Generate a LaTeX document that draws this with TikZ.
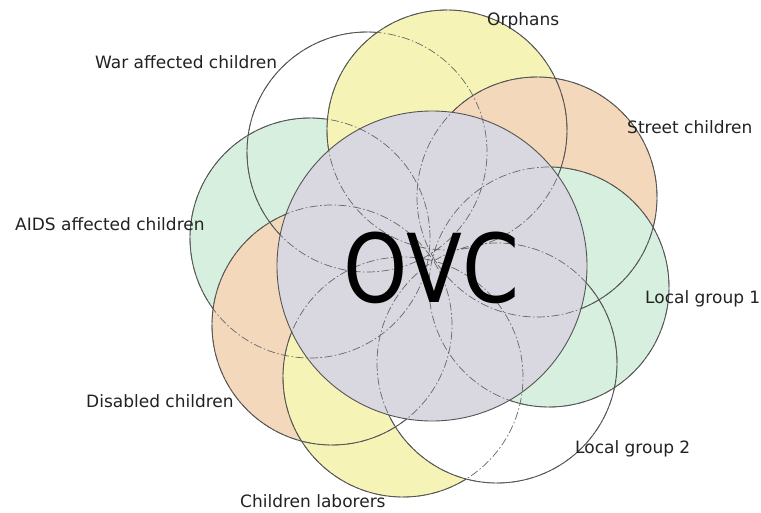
\documentclass[tikz,border=0pt]{standalone}
\usepackage{fontspec}
\setmainfont{DejaVu Sans}
\definecolor{cyel}{HTML}{F6F3B6}
\definecolor{cpea}{HTML}{F3D8BB}
\definecolor{cgrn}{HTML}{D7EFDF}
\definecolor{cgry}{HTML}{D9D8E0}
\definecolor{cline}{HTML}{555555}
\definecolor{ctext}{HTML}{222222}
\begin{document}
\begin{tikzpicture}[x=1pt,y=-1pt,
  outl/.style={draw=cline, line width=0.9pt},
  hid/.style={draw=cline!90, line width=0.7pt, dash pattern=on 8pt off 2.5pt on 1.5pt off 2.5pt},
  lab/.style={font=\fontsize{17}{20}\selectfont, text=ctext, inner sep=0pt, anchor=base west}]
\useasboundingbox (0,0) rectangle (761,512);
\fill[white] (0,0) rectangle (761,512);
% centres
\coordinate (war) at (367,152);
\coordinate (aids) at (310,238);
\coordinate (dis) at (332,325);
\coordinate (lab) at (403,377);
\coordinate (lgb) at (497,363);
\coordinate (orph) at (447,130);
\coordinate (str) at (537,197);
\coordinate (lga) at (549,287);
\coordinate (ovc) at (432,266);
\def\cWar{(war) circle[radius=120pt]}
\def\cAids{(aids) circle[radius=120pt]}
\def\cDis{(dis) circle[radius=120pt]}
\def\cLab{(lab) circle[radius=120pt]}
\def\cLgb{(lgb) circle[radius=120pt]}
\def\cOrph{(orph) circle[radius=120pt]}
\def\cStr{(str) circle[radius=120pt]}
\def\cLga{(lga) circle[radius=120pt]}
\def\cOvc{(ovc) circle[radius=155pt]}
\def\big{(-20,-20) rectangle (781,532)}
% fills, bottom to top
\fill[white] \cWar;
\fill[cgrn] \cAids;
\fill[cpea] \cDis;
\fill[cyel] \cLab;
\fill[white] \cLgb;
\fill[cyel] \cOrph;
\fill[cpea] \cStr;
\fill[cgrn] \cLga;
\fill[cgry] \cOvc;
% hidden outlines
\draw[hid] \cWar \cAids \cDis \cLab \cLgb \cOrph \cStr \cLga;
% visible outlines
\begin{scope}[even odd rule]
  \clip \big \cOrph; \clip \big \cOvc;
  \draw[outl] \cWar;
\end{scope}
\begin{scope}[even odd rule]
  \clip \big \cOrph; \clip \big \cDis; \clip \big \cOvc;
  \draw[outl] \cAids;
\end{scope}
\begin{scope}[even odd rule]
  \clip \big \cOvc;
  \draw[outl] \cDis;
\end{scope}
\begin{scope}[even odd rule]
  \clip \big \cLgb; \clip \big \cOvc;
  \draw[outl] \cLab;
\end{scope}
\begin{scope}[even odd rule]
  \clip \big \cOvc;
  \draw[outl] \cLgb \cOrph \cStr \cLga;
\end{scope}
\draw[outl] \cOvc;
% labels
\node[lab] (tWar) at (95,68) {War affected children};
\node[lab] (tOrph) at (487,25) {Orphans};
\node[lab] (tStr) at (627,133) {Street children};
\node[lab] (tAids) at (15,230) {AIDS affected children};
\node[lab] (tLga) at (645,303) {Local group 1};
\node[lab] (tLgb) at (575,453) {Local group 2};
\node[lab] (tDis) at (86,407) {Disabled children};
\node[lab] (tLab) at (240,507) {Children laborers};
\node[inner sep=0pt, anchor=base, font=\fontsize{95}{100}\selectfont] (tOvc) at (431.5,302) {\scalebox{0.86}[1]{OVC}};
\end{tikzpicture}
\end{document}
